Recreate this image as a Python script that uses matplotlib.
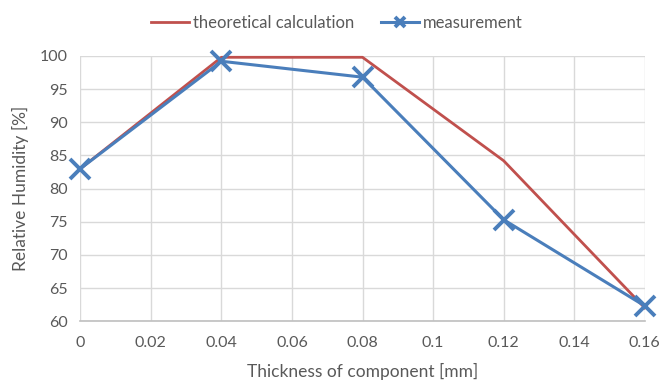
import matplotlib
matplotlib.use("Agg")
from matplotlib import pyplot as plt

thickness = [0, 0.04, 0.08, 0.12, 0.16]
theoretical = [83.0, 99.8, 99.8, 84.2, 62.0]
measured = [83.0, 99.2, 96.8, 75.3, 62.3]
xticks = [0, 0.02, 0.04, 0.06, 0.08, 0.1, 0.12, 0.14, 0.16]
xticklabels = ["0", "0.02", "0.04", "0.06", "0.08", "0.1", "0.12", "0.14", "0.16"]
yticks = [60, 65, 70, 75, 80, 85, 90, 95, 100]

plt.rcParams['font.family'] = ['Lato', 'DejaVu Sans']
textcol = "#595959"

fig = plt.figure(figsize=(6.64, 3.86), dpi=100)
ax = fig.add_axes([0.121, 0.168, 0.85, 0.687])

ax.plot(thickness, theoretical, color="#c0504d", lw=2.0, label="theoretical calculation",
        clip_on=False)
ax.plot(thickness, measured, color="#4a7ebb", lw=2.2, marker="x", markersize=14,
        markeredgewidth=2.8, label="measurement", clip_on=False)

ax.set_xlim(0, 0.16)
ax.set_ylim(60, 100)
ax.set_xticks(xticks)
ax.set_xticklabels(xticklabels)
ax.set_yticks(yticks)
ax.grid(True, color="#d9d9d9", lw=1.0)
ax.set_axisbelow(True)
for s in ["top", "right", "left"]:
    ax.spines[s].set_visible(False)
ax.spines["bottom"].set_color("#bfbfbf")
ax.spines["bottom"].set_linewidth(1.2)
ax.tick_params(axis="x", length=0, labelsize=11.5, colors=textcol, pad=11)
ax.tick_params(axis="y", length=0, labelsize=11.5, colors=textcol, pad=9)

ax.set_xlabel("Thickness of component [mm]", fontsize=12.5, color=textcol, labelpad=9)
ax.set_ylabel("Relative Humidity [%]", fontsize=12.5, color=textcol, labelpad=8)

fig.legend(loc="upper center", bbox_to_anchor=(0.507, 1.0), ncol=2, frameon=False,
           fontsize=12, labelcolor=textcol, handlelength=2.3, columnspacing=1.6,
           handletextpad=0.2, markerscale=0.5)

fig.savefig("out.png", dpi=100)
